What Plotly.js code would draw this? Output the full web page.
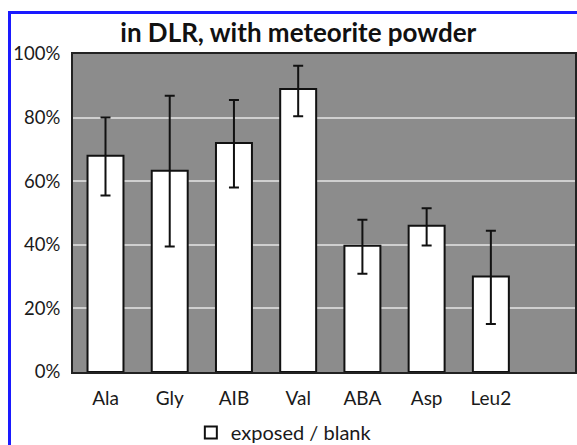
<!DOCTYPE html>
<html>
<head>
<meta charset="utf-8">
<script src="https://cdn.plot.ly/plotly-3.0.1.min.js"></script>
<style>
html,body{margin:0;padding:0;background:#fff;overflow:hidden;}
#chart{position:absolute;left:0;top:0;width:577px;height:445px;}
#frame{position:absolute;left:8px;top:11px;width:600px;height:460px;border-left:3px solid #1a1aff;border-top:3px solid #1a1aff;pointer-events:none;}
</style>
</head>
<body>
<div id="chart"></div>
<div id="frame"></div>
<script>
const categories = ["Ala", "Gly", "AIB", "Val", "ABA", "Asp", "Leu2"];
const ratio = [0.68, 0.633, 0.72, 0.89, 0.397, 0.46, 0.30];
const errPlus = [0.12, 0.236, 0.135, 0.073, 0.082, 0.055, 0.144];
const errMinus = [0.125, 0.238, 0.14, 0.086, 0.088, 0.062, 0.149];
const tickVals = [0, 0.2, 0.4, 0.6, 0.8, 1.0];
const tickText = ["0%", "20%", "40%", "60%", "80%", "100%"];
const seriesName = "exposed / blank";
const chartTitle = "in DLR, with meteorite powder";

const xIdx = categories.map((c, i) => i);

const trace = {
  type: "bar",
  x: xIdx,
  y: ratio,
  name: seriesName,
  width: 0.56,
  marker: {color: "#ffffff", line: {color: "#111111", width: 2}},
  error_y: {
    type: "data", symmetric: false,
    array: errPlus, arrayminus: errMinus,
    color: "#111111", thickness: 2, width: 5
  },
  showlegend: true
};

const layout = {
  width: 577, height: 445,
  margin: {l: 73, r: 2, t: 54, b: 73, autoexpand: false},
  paper_bgcolor: "rgba(0,0,0,0)",
  plot_bgcolor: "#8c8c8c",
  font: {family: "Lato, sans-serif", color: "#1a1a1a", size: 19},
  title: {
    text: "<b>" + chartTitle + "</b>",
    font: {family: "Lato, sans-serif", size: 26, color: "#111"},
    x: 0.517, xanchor: "center", y: 0.925, yanchor: "middle"
  },
  xaxis: {
    range: [-0.506, 7.31],
    tickmode: "array", tickvals: xIdx, ticktext: categories,
    showgrid: false, zeroline: false,
    showline: true, linecolor: "#222", linewidth: 2, mirror: true,
    ticks: "", ticklabelstandoff: 8, tickfont: {size: 19}
  },
  yaxis: {
    range: [0, 1.0],
    tickmode: "array", tickvals: tickVals, ticktext: tickText,
    showgrid: true, gridcolor: "#cfcfcf", gridwidth: 2,
    zeroline: false,
    showline: true, linecolor: "#222", linewidth: 2, mirror: true,
    ticks: "", ticklabelstandoff: 7, tickfont: {size: 18.5}
  },
  showlegend: true,
  legend: {
    orientation: "h", x: 0.42, xanchor: "center",
    yref: "container", y: 0.028, yanchor: "middle",
    font: {size: 20}, bgcolor: "rgba(0,0,0,0)", itemwidth: 30
  }
};

Plotly.newPlot("chart", [trace], layout, {displayModeBar: false, staticPlot: true});
</script>
</body>
</html>
